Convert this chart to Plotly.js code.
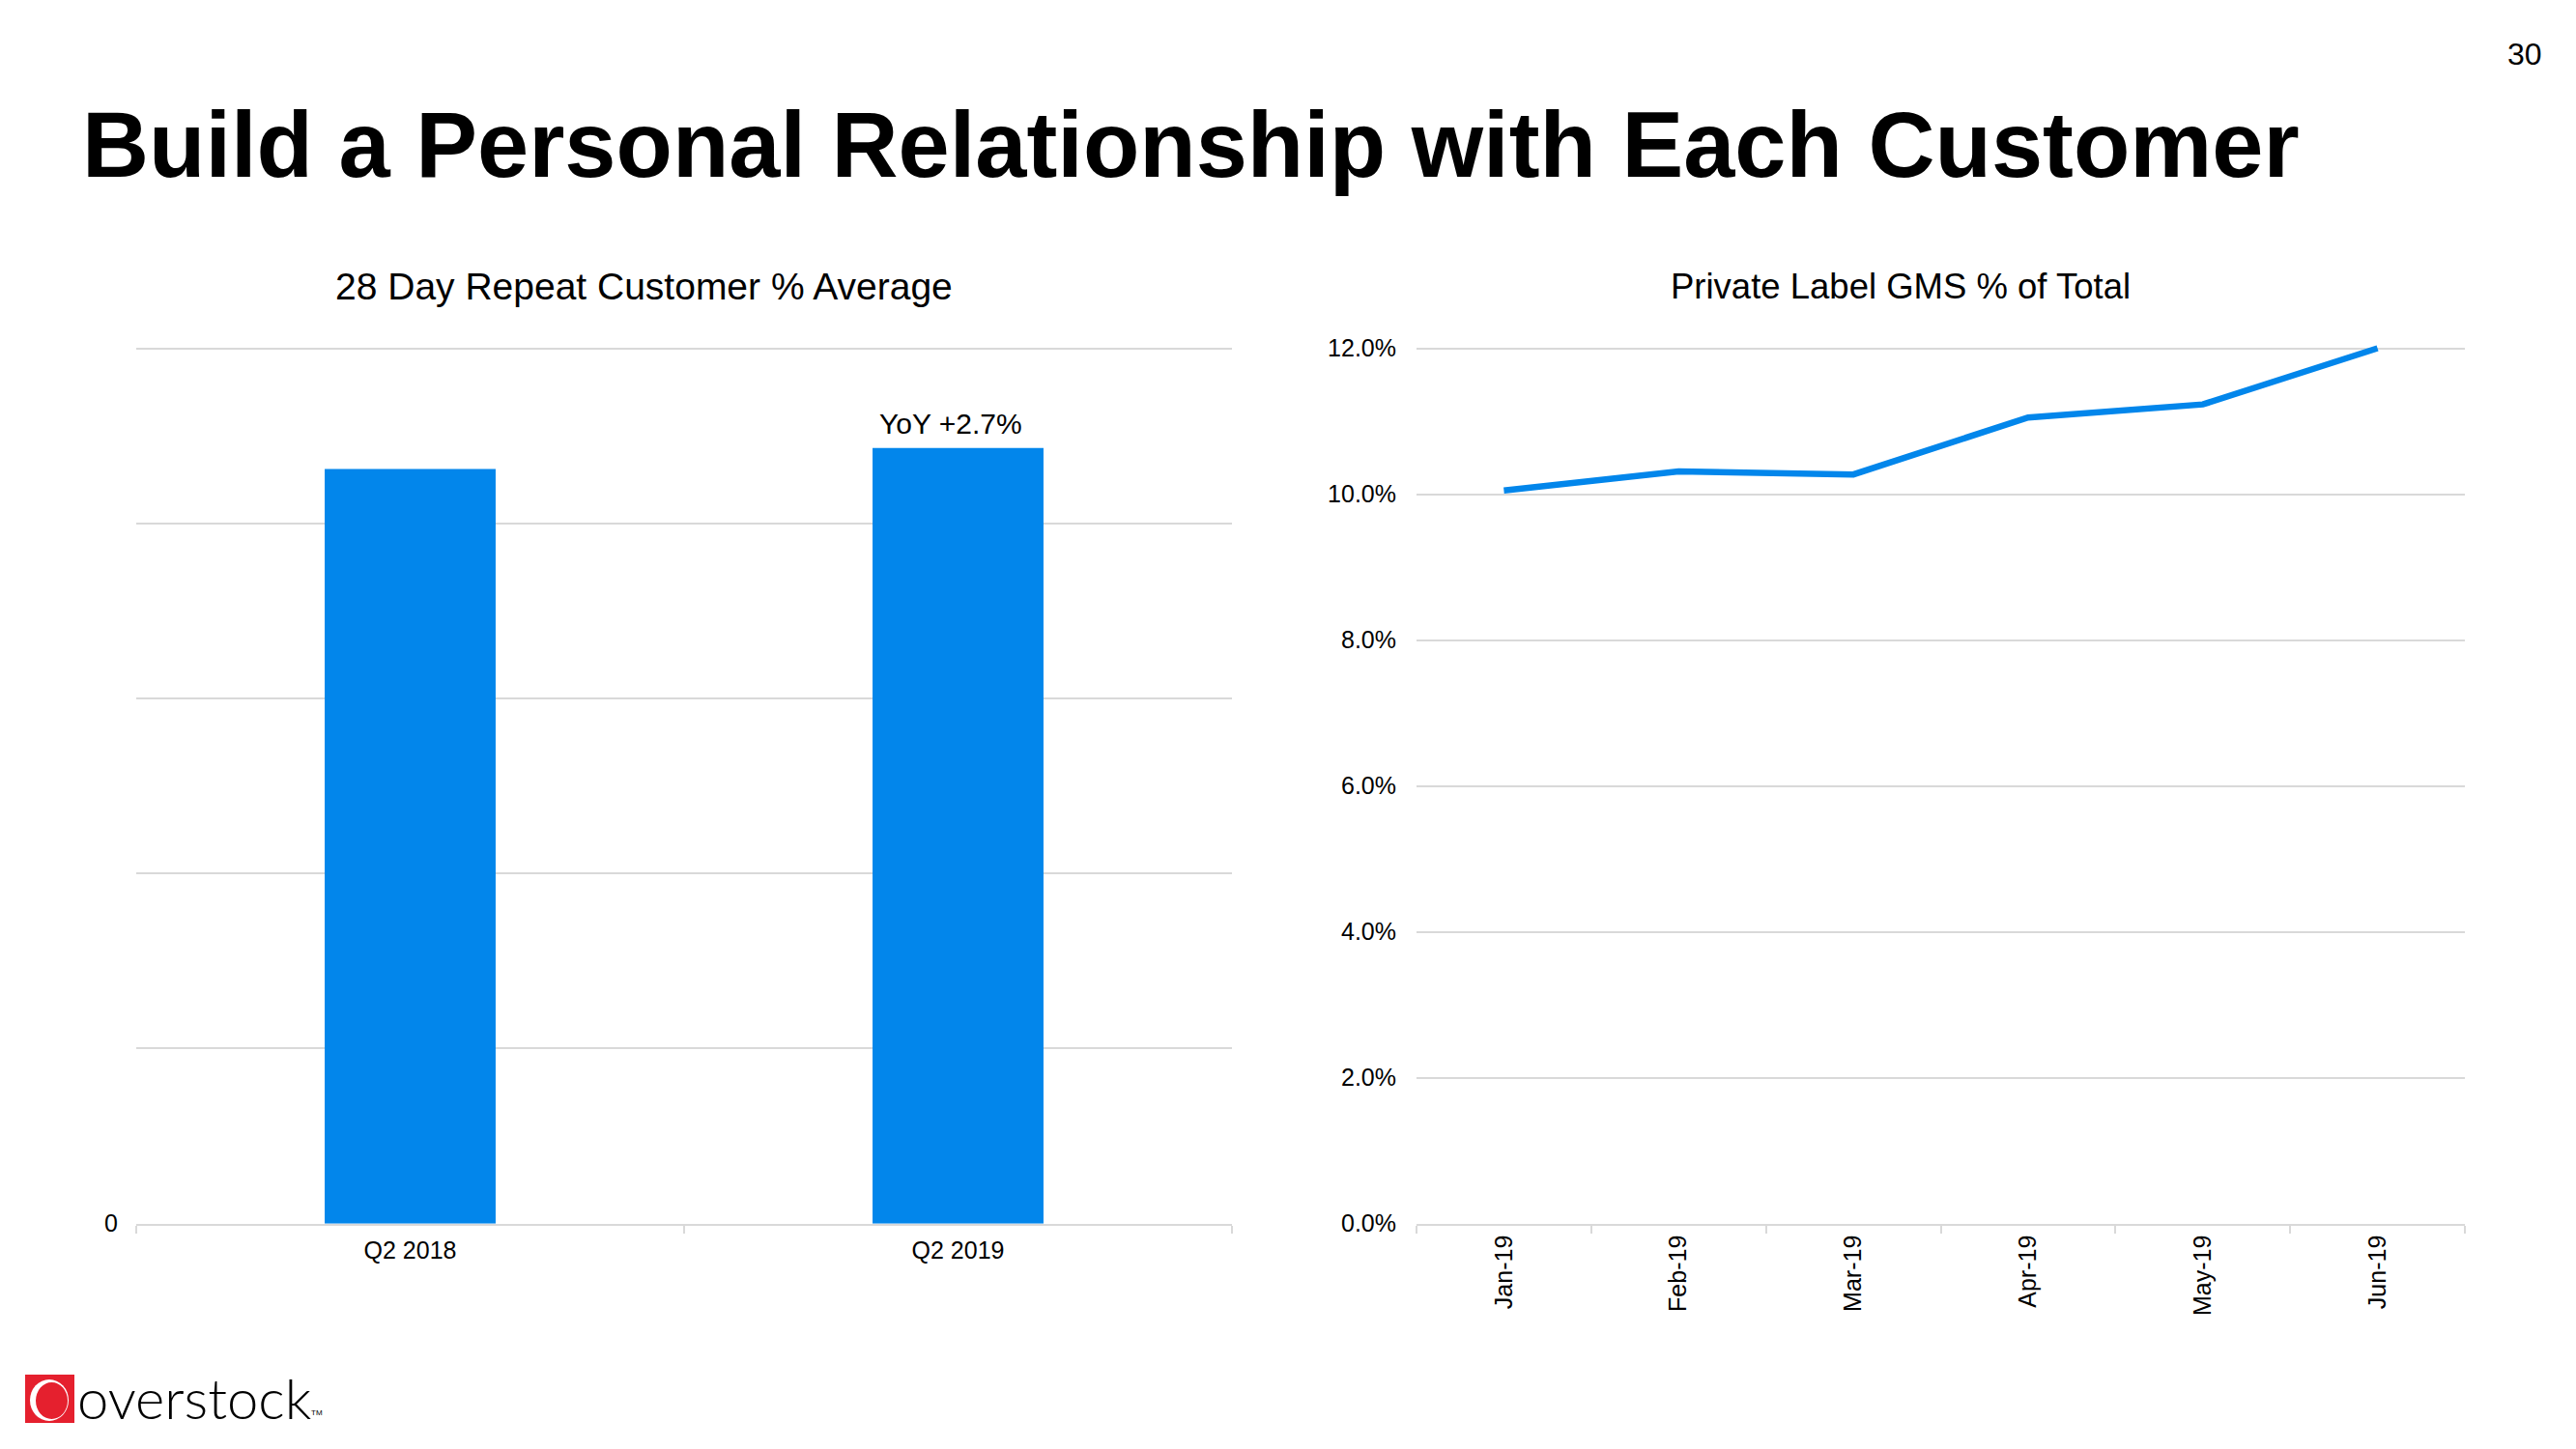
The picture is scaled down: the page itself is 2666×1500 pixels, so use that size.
<!DOCTYPE html>
<html>
<head>
<meta charset="utf-8">
<script src="https://cdn.plot.ly/plotly-3.0.1.min.js"></script>
<style>
  html, body { margin: 0; padding: 0; background: #ffffff; }
  #chart { width: 2666px; height: 1500px; }
</style>
</head>
<body>
<div id="chart"></div>
<script>
// ---- data ----
const pageTitle = 'Build a Personal Relationship with Each Customer';
const pageNumber = '30';

const repeatTitle = '28 Day Repeat Customer % Average';
const repeatCategories = ['Q2 2018', 'Q2 2019'];
const repeatValues = [4.31, 4.43];           // unlabelled index scale (axis shows only 0)
const repeatGridVals = [0, 1, 2, 3, 4, 5];
const repeatGridText = ['0', '', '', '', '', ''];
const repeatNote = 'YoY +2.7%';

const gmsTitle = 'Private Label GMS % of Total';
const gmsMonths = ['Jan-19', 'Feb-19', 'Mar-19', 'Apr-19', 'May-19', 'Jun-19'];
const gmsPct = [10.05, 10.31, 10.27, 11.05, 11.23, 12.0];
const gmsTickVals = [0, 2, 4, 6, 8, 10, 12];
const gmsTickText = ['0.0%', '2.0%', '4.0%', '6.0%', '8.0%', '10.0%', '12.0%'];

const logoText = 'overstock';

// ---- layout helpers ----
const W = 2666, H = 1500;
const px = x => x / W;
const py = y => 1 - y / H;

const BLUE = '#0286EB';
const GRID = '#d9d9d9';
const FONT = 'Liberation Sans, Arial, sans-serif';

const traces = [
  {
    type: 'bar',
    x: repeatCategories,
    y: repeatValues,
    xaxis: 'x', yaxis: 'y',
    marker: { color: BLUE },
    width: 0.312,
    hoverinfo: 'skip',
    showlegend: false
  },
  {
    type: 'scatter',
    mode: 'lines',
    x: gmsMonths,
    y: gmsPct,
    xaxis: 'x2', yaxis: 'y2',
    line: { color: BLUE, width: 6.5 },
    hoverinfo: 'skip',
    showlegend: false
  }
];

// pixel geometry: top gridline at 360.5, baseline at 1266.7; small headroom so the top gridline draws
const yBot = 1266.7, yTopGrid = 360.5, head = 9;
const yTop = yTopGrid - head;
const leftMax = 5 * (yBot - yTop) / (yBot - yTopGrid);
const rightMax = 12 * (yBot - yTop) / (yBot - yTopGrid);

const layout = {
  width: W, height: H,
  margin: { l: 0, r: 0, t: 0, b: 0 },
  paper_bgcolor: '#ffffff',
  plot_bgcolor: '#ffffff',
  font: { family: FONT, color: '#000000', size: 25 },
  showlegend: false,
  xaxis: {
    domain: [px(141), px(1275)],
    anchor: 'y',
    type: 'category',
    range: [-0.5, 1.5],
    showgrid: false,
    showline: true, linecolor: GRID, linewidth: 2,
    ticks: 'outside', tickson: 'boundaries', ticklen: 8, tickcolor: GRID, tickwidth: 2,
    ticklabelstandoff: 4,
    tickfont: { size: 25, color: '#000' },
    fixedrange: true
  },
  yaxis: {
    domain: [py(yBot), py(yTop)],
    anchor: 'x',
    range: [0, leftMax],
    tickvals: repeatGridVals,
    ticktext: repeatGridText,
    showgrid: true, gridcolor: GRID, gridwidth: 2,
    zeroline: false,
    showline: false,
    ticks: '',
    ticklabelstandoff: 18,
    tickfont: { size: 25, color: '#000' },
    fixedrange: true
  },
  xaxis2: {
    domain: [px(1466), px(2551)],
    anchor: 'y2',
    type: 'category',
    range: [-0.5, 5.5],
    showgrid: false,
    showline: true, linecolor: GRID, linewidth: 2,
    ticks: 'outside', tickson: 'boundaries', ticklen: 8, tickcolor: GRID, tickwidth: 2,
    tickangle: -90,
    tickfont: { size: 25, color: '#000' },
    fixedrange: true
  },
  yaxis2: {
    domain: [py(yBot), py(yTop)],
    anchor: 'x2',
    range: [0, rightMax],
    tickvals: gmsTickVals,
    ticktext: gmsTickText,
    showgrid: true, gridcolor: GRID, gridwidth: 2,
    zeroline: false,
    showline: false,
    ticks: '',
    ticklabelstandoff: 20,
    tickfont: { size: 25, color: '#000' },
    fixedrange: true
  },
  annotations: [
    {
      text: pageTitle, xref: 'paper', yref: 'paper',
      x: px(83), y: py(150), xanchor: 'left', yanchor: 'middle',
      showarrow: false,
      font: { family: FONT, size: 95.6, weight: 'bold', color: '#000' }
    },
    {
      text: pageNumber, xref: 'paper', yref: 'paper',
      x: px(2633), y: py(56), xanchor: 'right', yanchor: 'middle',
      showarrow: false,
      font: { family: FONT, size: 32, color: '#000' }
    },
    {
      text: repeatTitle, xref: 'paper', yref: 'paper',
      x: px(666), y: py(297), xanchor: 'center', yanchor: 'middle',
      showarrow: false,
      font: { family: FONT, size: 39, color: '#000' }
    },
    {
      text: gmsTitle, xref: 'paper', yref: 'paper',
      x: px(1967), y: py(296), xanchor: 'center', yanchor: 'middle',
      showarrow: false,
      font: { family: FONT, size: 36.5, color: '#000' }
    },
    {
      text: repeatNote, xref: 'x', yref: 'y',
      x: repeatCategories[1], y: repeatValues[1],
      xanchor: 'center', yanchor: 'bottom', yshift: 7, xshift: -8,
      showarrow: false,
      font: { family: FONT, size: 30, color: '#000' }
    },
    {
      text: logoText, xref: 'paper', yref: 'paper',
      x: px(78), y: py(1446), xanchor: 'left', yanchor: 'middle',
      showarrow: false,
      font: { family: 'Lato, sans-serif', size: 58, weight: 300, color: '#000' }
    },
    {
      text: 'TM', xref: 'paper', yref: 'paper',
      x: px(320), y: py(1462), xanchor: 'left', yanchor: 'middle',
      showarrow: false,
      font: { family: FONT, size: 8, color: '#000' }
    }
  ],
  shapes: [
    { type: 'rect', xref: 'paper', yref: 'paper',
      x0: px(26), x1: px(77), y0: py(1473), y1: py(1423),
      fillcolor: '#E5202E', line: { width: 0 } },
    { type: 'circle', xref: 'paper', yref: 'paper',
      x0: px(31), x1: px(71), y0: py(1471), y1: py(1428),
      fillcolor: '#ffffff', line: { width: 0 } },
    { type: 'circle', xref: 'paper', yref: 'paper',
      x0: px(37), x1: px(70), y0: py(1469), y1: py(1431),
      fillcolor: '#E5202E', line: { width: 0 } }
  ]
};

Plotly.newPlot('chart', traces, layout, { staticPlot: true, displayModeBar: false });
</script>
</body>
</html>
